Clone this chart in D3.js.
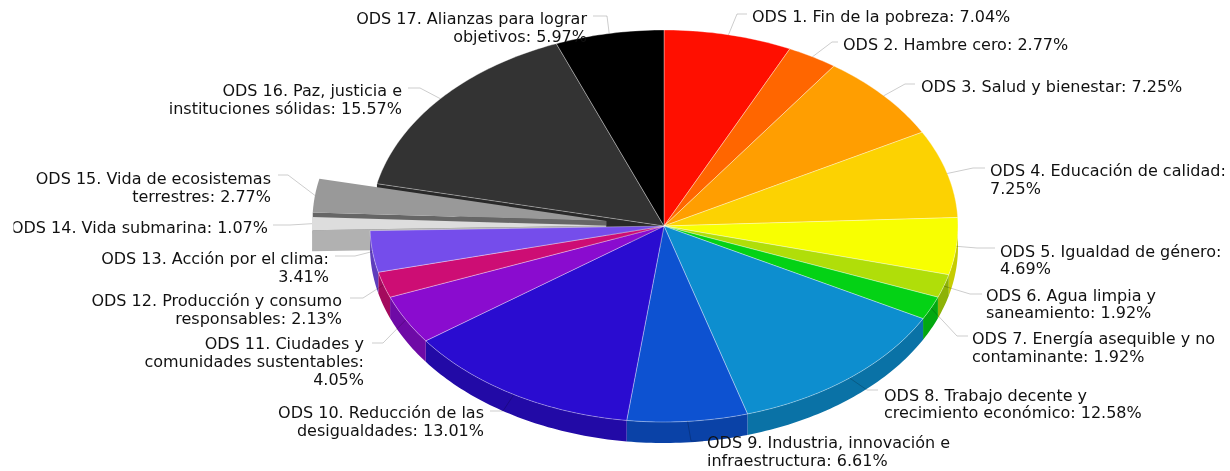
<!DOCTYPE html>
<html><head><meta charset="utf-8">
<style>html,body{margin:0;padding:0;background:#fff;overflow:hidden}svg{display:block}</style>
<script src="https://cdn.jsdelivr.net/npm/d3@7"></script></head>
<body><svg id="c" width="1230" height="471"></svg>
<script>
const categories = ["ODS 1","ODS 2","ODS 3","ODS 4","ODS 5","ODS 6","ODS 7","ODS 8","ODS 9","ODS 10","ODS 11","ODS 12","ODS 13","ODS 14","ODS 15","ODS 16","ODS 17"];
const values = [7.04,2.77,7.25,7.25,4.69,1.92,1.92,12.58,6.61,13.01,4.05,2.13,3.41,1.07,2.77,15.57,5.97];
const colors = ["#FF0F00","#FF6600","#FF9E01","#FCD202","#F8FF01","#B0DE09","#04D215","#0D8ECF","#0D52D1","#2A0CD0","#8A0CCF","#CD0D74","#754DEB","#DDDDDD","#999999","#333333","#000000"];
const labelLines = [
 ["ODS 1. Fin de la pobreza: 7.04%"],
 ["ODS 2. Hambre cero: 2.77%"],
 ["ODS 3. Salud y bienestar: 7.25%"],
 ["ODS 4. Educación de calidad:","7.25%"],
 ["ODS 5. Igualdad de género:","4.69%"],
 ["ODS 6. Agua limpia y","saneamiento: 1.92%"],
 ["ODS 7. Energía asequible y no","contaminante: 1.92%"],
 ["ODS 8. Trabajo decente y","crecimiento económico: 12.58%"],
 ["ODS 9. Industria, innovación e","infraestructura: 6.61%"],
 ["ODS 10. Reducción de las","desigualdades: 13.01%"],
 ["ODS 11. Ciudades y","comunidades sustentables:","4.05%"],
 ["ODS 12. Producción y consumo","responsables: 2.13%"],
 ["ODS 13. Acción por el clima:","3.41%"],
 ["ODS 14. Vida submarina: 1.07%"],
 ["ODS 15. Vida de ecosistemas","terrestres: 2.77%"],
 ["ODS 16. Paz, justicia e","instituciones sólidas: 15.57%"],
 ["ODS 17. Alianzas para lograr","objetivos: 5.97%"]
];
const pulled = ["ODS 14","ODS 15"];
// annotation layout: [text x, first baseline, elbow x, elbow y, tick end x]
const labelLayout = [
 [752,22,737,14,747],[843,50,832,42,838],[921,92,905,84,915],[990,176,973,168,985],
 [1000,256.5,977,248,995],[986,300.5,970,294,982],[972,344,957,336,968],[884,400.5,867,390,878],
 [707,448,691,441,703],[484,418,503,411,490],[364,349,383,343,372],[342,306,363,298,350],
 [329,264,355,256,335],[268,232.5,290,225,273],[271,184,288,175,278],[402,96,420,88,408],[587,24,607,16,593]
];

const cx=664, cy=226, rx=294, ry=196, depth=21, pullDist=58;
const svg=d3.select("#c");
const arcs=d3.pie().sort(null).value(d=>d).startAngle(0).endAngle(2*Math.PI)(values);
const X=d3.scaleLinear().domain([-1,1]).range([cx-rx,cx+rx]);
const Y=d3.scaleLinear().domain([-1,1]).range([cy-ry,cy+ry]);
const pt=(a,r=1)=>[X(r*Math.sin(a)),Y(-r*Math.cos(a))];
const isPulled=i=>pulled.includes(categories[i]);
const pullOf=(d,i)=>{ if(!isPulled(i)) return [0,0]; const m=(d.startAngle+d.endAngle)/2;
  return [pullDist*Math.sin(m), -pullDist*(ry/rx)*Math.cos(m)]; };
const line=d3.line();
const sample=(a0,a1)=>{const n=Math.max(2,Math.ceil(Math.abs(a1-a0)*60));return d3.range(n+1).map(k=>pt(a0+(a1-a0)*k/n));};
const topPath=d=>line([[cx,cy],...sample(d.startAngle,d.endAngle)])+"Z";
const rimPath=d=>{ const a0=Math.max(d.startAngle,Math.PI/2),a1=Math.min(d.endAngle,3*Math.PI/2);
  if(a1<=a0) return null; const s=sample(a0,a1);
  return line([...s,...s.slice().reverse().map(p=>[p[0],p[1]+depth])])+"Z"; };
const cutPath=a=>{const p=pt(a);return line([[cx,cy],p,[p[0],p[1]+depth],[cx,cy+depth]])+"Z";};
const wallCol=c=>{const r=d3.rgb(c);return d3.rgb(r.r*.8,r.g*.8,r.b*.8).formatHex();};

const root=svg.append("g").style("filter","blur(0.45px)");
const gPie=root.append("g");
const stroke="#fff", sOp=.35;

// wall of ODS 16 lower cut edge
const i16=categories.indexOf("ODS 16");
gPie.append("path").attr("d",cutPath(arcs[i16].startAngle)).attr("fill",wallCol(colors[i16]));

// pulled slices: farthest first
arcs.map((d,i)=>[d,i]).filter(e=>isPulled(e[1])).sort((a,b)=>b[1]-a[1]).forEach(([d,i])=>{
  const [dx,dy]=pullOf(d,i);
  const g=gPie.append("g").attr("transform",`translate(${dx},${dy})`);
  g.append("path").attr("d",cutPath(d.startAngle)).attr("fill",d3.rgb(wallCol(colors[i])).darker(i===14?0.5:0).formatHex());
  g.append("path").attr("d",topPath(d)).attr("fill",colors[i]);
});
// rim walls
arcs.forEach((d,i)=>{ if(isPulled(i))return; const p=rimPath(d); if(!p)return;
  gPie.append("path").attr("d",p).attr("fill",wallCol(colors[i]));});
// tops
arcs.forEach((d,i)=>{ if(isPulled(i))return;
  gPie.append("path").attr("d",topPath(d)).attr("fill",colors[i])
    .attr("stroke",stroke).attr("stroke-opacity",sOp).attr("stroke-width",1).attr("stroke-linejoin","round");});

// leader lines
const gTick=root.append("g");
arcs.forEach((d,i)=>{ const m=(d.startAngle+d.endAngle)/2,[dx,dy]=pullOf(d,i),p=pt(m),L=labelLayout[i];
  gTick.append("path").attr("d",line([[p[0]+dx,p[1]+dy],[L[2],L[3]],[L[4],L[3]]]))
    .attr("fill","none").attr("stroke","#000").attr("stroke-opacity",.2);});

// labels
svg.append("defs").append("clipPath").attr("id","cl").append("rect").attr("x",13.5).attr("y",0).attr("width",1219).attr("height",471);
const gLab=root.append("g").attr("clip-path","url(#cl)").attr("font-family","'DejaVu Sans',Verdana,sans-serif").attr("font-size",16).attr("fill","#111");
arcs.forEach((d,i)=>{ const m=(d.startAngle+d.endAngle)/2,L=labelLayout[i],left=m>Math.PI;
  labelLines[i].forEach((t,k)=>gLab.append("text").attr("x",L[0]).attr("y",L[1]+k*17.8).attr("text-anchor",left?"end":"start").text(t));});
</script></body></html>
